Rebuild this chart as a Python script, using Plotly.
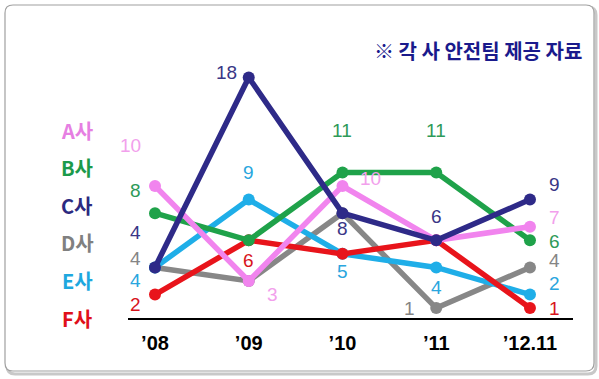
import plotly.graph_objects as go

# ---- data ----
years = ["’08", "’09", "’10", "’11", "’12.11"]
companies = ["A사", "B사", "C사", "D사", "E사", "F사"]
vals_A = [10, 3, 10, 6, 7]
vals_B = [8, 6, 11, 11, 6]
vals_C = [4, 18, 8, 6, 9]
vals_D = [4, 3, 8, 1, 4]
vals_E = [4, 9, 5, 4, 2]
vals_F = [2, 6, 5, 6, 1]
series_values = [vals_A, vals_B, vals_C, vals_D, vals_E, vals_F]
# which points carry a value label
shown_A = [True, True, True, False, True]
shown_B = [True, False, True, True, True]
shown_C = [True, True, True, True, True]
shown_D = [True, False, False, True, True]
shown_E = [True, True, True, True, True]
shown_F = [True, True, False, False, True]
shown = [shown_A, shown_B, shown_C, shown_D, shown_E, shown_F]
note = "※ 각 사 안전팀 제공 자료"

# ---- styles ----
line_colors = ["#F184EE", "#1FA24A", "#2E2A88", "#878787", "#1FAEE8", "#E8141B"]
label_colors = ["#F2A0EC", "#2E9A58", "#3A3686", "#858585", "#2AA6DE", "#D8141C"]
legend_colors = ["#E67FE2", "#1C9A4A", "#2C2A80", "#808080", "#1EA8DF", "#E0101A"]
# label offsets (xshift, yshift) in px per series per point
offsets = [
    [(-25, 41), (24, -14), (28, 8), (0, 0), (25, 9)],
    [(-20, 23), (0, 0), (0, 42), (0, 42), (25, -1)],
    [(-20, 35), (-22, 5), (0, -15), (0, 24), (25, 15)],
    [(-20, 9), (24, -16), (0, 0), (-27, 0), (25, 7)],
    [(-20, -13), (0, 27), (0, -18), (0, -20), (25, 11)],
    [(-20, -10), (0, -20), (0, 0), (0, 0), (25, 0)],
]

fig = go.Figure()
draw_order = [3, 4, 5, 1, 0, 2]
for i in draw_order:
    fig.add_trace(go.Scatter(
        x=list(range(len(years))), y=series_values[i], mode="lines+markers",
        line=dict(color=line_colors[i], width=5.5),
        marker=dict(color=line_colors[i], size=12),
        name=companies[i], showlegend=False, hoverinfo="skip",
    ))

label_font = "Liberation Sans, Arial, sans-serif"
annotations = []
for i, vals in enumerate(series_values):
    for j, v in enumerate(vals):
        if not shown[i][j]:
            continue
        dx, dy = offsets[i][j]
        annotations.append(dict(
            x=j, y=v, xref="x", yref="y", text=str(v), showarrow=False,
            xshift=dx, yshift=dy,
            font=dict(family=label_font, size=19, color=label_colors[i]),
        ))

# legend text on left
L, R, T, B = 128, 573, 50, 318
W, H = R - L, B - T
def px(x):
    return (x - L) / W
def py(y):
    return (B - y) / H

legend_y = [130, 167, 205, 242, 280, 318]
for i, name in enumerate(companies):
    annotations.append(dict(
        x=px(77), y=py(legend_y[i]), xref="paper", yref="paper", text=f"<b>{name}</b>",
        showarrow=False, xanchor="center", yanchor="middle",
        font=dict(family="Noto Sans CJK KR, sans-serif", size=20, color=legend_colors[i]),
    ))

annotations.append(dict(
    x=px(478), y=py(50), xref="paper", yref="paper", text=f"<b>{note}</b>",
    showarrow=False, xanchor="center", yanchor="middle",
    font=dict(family="Noto Sans CJK KR, sans-serif", size=20, color="#1A1A8C"),
))

def rounded(x0, y0, x1, y1, r):
    X0, X1 = px(x0), px(x1)
    Y0, Y1 = py(y0), py(y1)
    rx, ry = r / W, r / H
    return (f"M {X0+rx},{Y0} L {X1-rx},{Y0} Q {X1},{Y0} {X1},{Y0-ry} "
            f"L {X1},{Y1+ry} Q {X1},{Y1} {X1-rx},{Y1} L {X0+rx},{Y1} "
            f"Q {X0},{Y1} {X0},{Y1+ry} L {X0},{Y0-ry} Q {X0},{Y0} {X0+rx},{Y0} Z")

shapes = [
    dict(type="path", xref="paper", yref="paper", layer="below",
         path=rounded(7, 7, 596, 374, 8), line=dict(color="#C8C8C8", width=3),
         fillcolor="rgba(0,0,0,0)"),
    dict(type="path", xref="paper", yref="paper", layer="below",
         path=rounded(5, 5, 594, 371, 8), line=dict(color="#A0A0A0", width=1.2),
         fillcolor="white"),
]

fig.update_layout(
    width=599, height=379,
    margin=dict(l=L, r=599 - R, t=T, b=379 - B),
    paper_bgcolor="white", plot_bgcolor="rgba(0,0,0,0)",
    annotations=annotations, shapes=shapes,
    xaxis=dict(range=[-0.288, 4.459], tickmode="array", tickvals=list(range(len(years))),
               ticktext=years, showgrid=False, zeroline=False, showline=True,
               linecolor="black", linewidth=1.5, ticks="", ticklabelstandoff=6,
               tickfont=dict(family="Liberation Sans, Arial, sans-serif", size=20,
                             color="black", weight="bold")),
    yaxis=dict(range=[0.27, 20.03], visible=False, showgrid=False, zeroline=False),
)

fig.write_html("out.html")
